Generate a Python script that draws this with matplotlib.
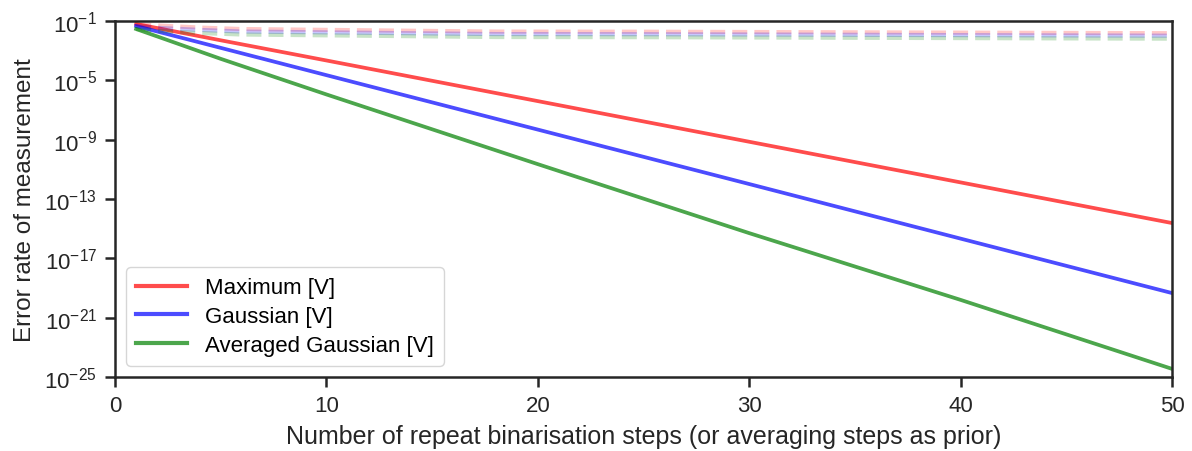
import numpy as np
import matplotlib
matplotlib.use("Agg")
import matplotlib.pyplot as plt
from matplotlib.ticker import LogFormatterSciNotation, NullLocator

plt.rcParams['font.family'] = ['Liberation Sans', 'DejaVu Sans']
plt.rcParams['mathtext.fontset'] = 'custom'
plt.rcParams['mathtext.rm'] = 'Liberation Sans'

steps = [1, 5, 10, 20, 30, 40, 50]

# log10 of error rate, solid lines
log_max = [-1.20, -2.30, -3.66, -6.40, -9.14, -11.88, -14.62]
log_gauss = [-1.34, -2.81, -4.65, -8.32, -11.99, -15.67, -19.34]
log_avg_gauss = [-1.54, -3.55, -5.95, -10.65, -15.30, -19.80, -24.45]

# faint dashed reference lines (log10)
dash_steps = [1, 2, 4, 6, 18, 25, 47, 50]
log_max_ref = [-1.20, -1.30, -1.44, -1.54, -1.71, -1.72, -1.81, -1.82]
log_gauss_ref = [-1.34, -1.46, -1.60, -1.71, -1.88, -1.89, -1.98, -1.99]
log_avg_ref = [-1.54, -1.67, -1.81, -1.91, -2.08, -2.09, -2.18, -2.19]

labels = ['Maximum [V]', 'Gaussian [V]', 'Averaged Gaussian [V]']
colors = ['red', 'blue', 'green']

fig = plt.figure(figsize=(11.92, 4.52), dpi=100)
ax = fig.add_axes([0.0965, 0.1637, 0.8867, 0.7876])

for lg, c, lab in zip([log_max, log_gauss, log_avg_gauss], colors, labels):
    ax.plot(steps, 10.0 ** np.array(lg), color=c, alpha=0.7, lw=2.7, label=lab)

for lg, c in zip([log_max_ref, log_gauss_ref, log_avg_ref], colors):
    ax.plot(dash_steps, 10.0 ** np.array(lg), color=c, alpha=0.22, lw=3.0,
            dashes=(3.6, 1.7))

ax.set_yscale('log')
ax.set_xlim(0, 50)
ax.set_ylim(1e-25, 1e-1)
ax.set_yticks([10.0 ** e for e in [-1, -5, -9, -13, -17, -21, -25]])
ax.yaxis.set_major_formatter(LogFormatterSciNotation())
ax.yaxis.set_minor_locator(NullLocator())
ax.set_xticks([0, 10, 20, 30, 40, 50])

for s in ax.spines.values():
    s.set_color('#262626')
    s.set_linewidth(1.8)
ax.tick_params(axis='both', which='major', direction='out', length=7, width=1.8,
               color='#262626', labelsize=16, labelcolor='#262626', pad=6)

ax.set_xlabel('Number of repeat binarisation steps (or averaging steps as prior)',
              fontsize=18, color='#262626', labelpad=6)
ax.set_ylabel('Error rate of measurement', fontsize=17.5, color='#262626', labelpad=6)

leg = ax.legend(loc='lower left', fontsize=16, handlelength=2.3, frameon=True,
                borderpad=0.45, labelspacing=0.35, handletextpad=0.8,
                bbox_to_anchor=(0.0, 0.0), borderaxespad=0.5)
leg.get_frame().set_edgecolor('#cccccc')
for h in leg.get_lines():
    h.set_linewidth(3.0)

fig.savefig('out.png', dpi=100)
